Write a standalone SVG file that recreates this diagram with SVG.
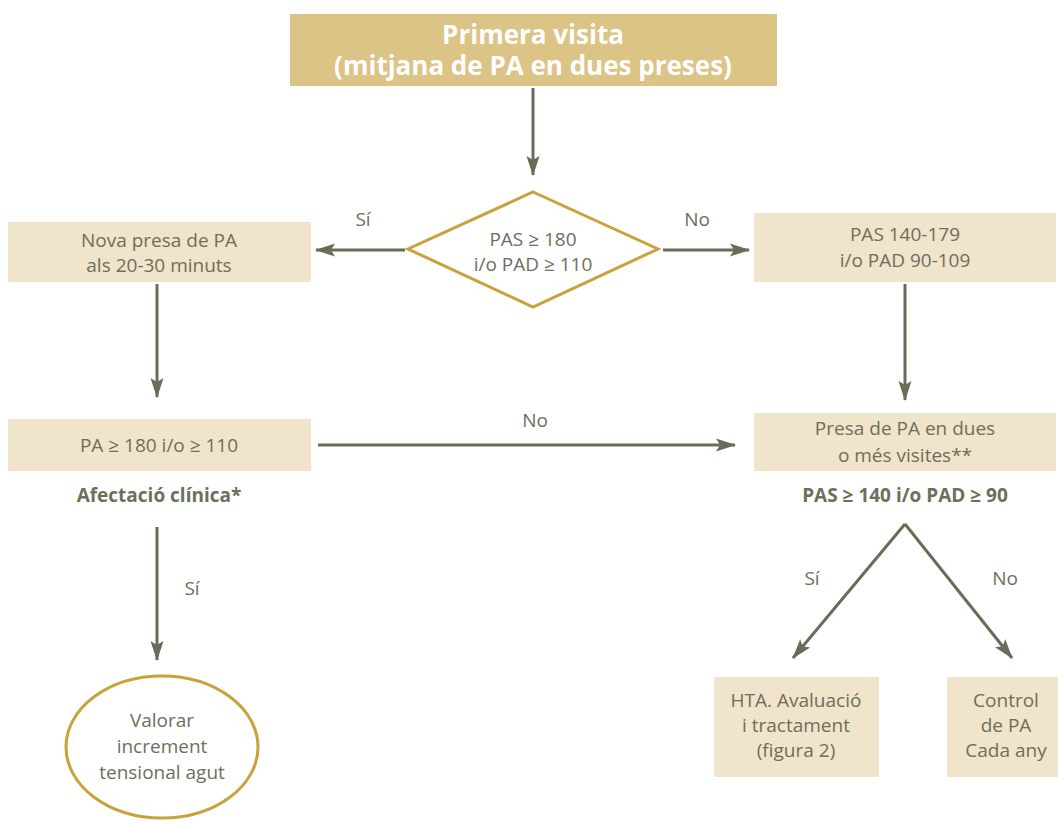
<svg xmlns="http://www.w3.org/2000/svg" width="1058" height="821" viewBox="0 0 1058 821">
<style>
.box{fill:#f0e4cb}
.t{font-family:"Open Sans","Noto Sans",sans-serif;font-size:19px;fill:#6e6e5c;text-anchor:middle}
.b{font-weight:bold}
.title{font-family:"Open Sans","Noto Sans",sans-serif;font-size:26px;font-weight:bold;fill:#ffffff;text-anchor:middle}
.c{stroke:#6b6b58;stroke-width:3;fill:none;marker-end:url(#ah)}
</style>
<defs>
<marker id="ah" viewBox="-20 -7 22 14" refX="0" refY="0" markerWidth="22" markerHeight="14" markerUnits="userSpaceOnUse" orient="auto">
<path d="M-19,-6.5 L1,0 L-19,6.5 L-15,0 Z" fill="#6b6b58"/>
</marker>
</defs>
<rect width="1058" height="821" fill="#ffffff"/>
<g id="connectors">
<line class="c" x1="533" y1="88" x2="533" y2="175"/>
<line class="c" x1="405" y1="250" x2="316" y2="250"/>
<line class="c" x1="663" y1="250" x2="749" y2="250"/>
<line class="c" x1="157" y1="284" x2="157" y2="397"/>
<line class="c" x1="905" y1="284" x2="905" y2="400"/>
<line class="c" x1="318" y1="445" x2="735" y2="445"/>
<line class="c" x1="157" y1="527" x2="157" y2="660"/>
<line class="c" x1="905" y1="524" x2="793" y2="658"/>
<line class="c" x1="905" y1="524" x2="1012" y2="658"/>
<text class="t" x="363" y="226">Sí</text>
<text class="t" x="697" y="226">No</text>
<text class="t" x="535" y="427">No</text>
<text class="t" x="192" y="595">Sí</text>
<text class="t" x="812" y="585">Sí</text>
<text class="t" x="1005" y="585">No</text>
</g>
<g id="start">
<rect x="290" y="14" width="487" height="72" fill="#dcc386"/>
<text class="title" x="533" y="44">Primera visita<tspan x="533" dy="31">(mitjana de PA en dues preses)</tspan></text>
</g>
<g id="decision1">
<polygon points="533,192 658,249 533,307 408,249" fill="#ffffff" stroke="#c9a23c" stroke-width="3"/>
<text class="t" x="533" y="246">PAS ≥ 180</text>
<text class="t" x="533" y="271">i/o PAD ≥ 110</text>
</g>
<g id="nova-presa">
<rect class="box" x="8" y="222" width="303" height="60"/>
<text class="t" x="159" y="247">Nova presa de PA</text>
<text class="t" x="159" y="272">als 20-30 minuts</text>
</g>
<g id="pas140">
<rect class="box" x="754" y="213" width="302" height="69"/>
<text class="t" x="905" y="241">PAS 140-179</text>
<text class="t" x="905" y="267">i/o PAD 90-109</text>
</g>
<g id="pa180">
<rect class="box" x="8" y="419" width="303" height="52"/>
<text class="t" x="159" y="452">PA ≥ 180 i/o ≥ 110</text>
<text class="t b" x="159" y="502">Afectació clínica*</text>
</g>
<g id="presa-dues">
<rect class="box" x="754" y="413" width="302" height="58"/>
<text class="t" x="905" y="435">Presa de PA en dues</text>
<text class="t" x="905" y="462">o més visites**</text>
<text class="t b" x="905" y="502">PAS ≥ 140 i/o PAD ≥ 90</text>
</g>
<g id="valorar">
<ellipse cx="162" cy="747" rx="96" ry="71" fill="#ffffff" stroke="#c9a23c" stroke-width="3"/>
<text class="t" x="162" y="727">Valorar</text>
<text class="t" x="162" y="753">increment</text>
<text class="t" x="162" y="779">tensional agut</text>
</g>
<g id="hta">
<rect class="box" x="714" y="677" width="165" height="100"/>
<text class="t" x="796" y="707">HTA. Avaluació</text>
<text class="t" x="796" y="732">i tractament</text>
<text class="t" x="796" y="757">(figura 2)</text>
</g>
<g id="control">
<rect class="box" x="947" y="677" width="111" height="100"/>
<text class="t" x="1006" y="707">Control</text>
<text class="t" x="1006" y="732">de PA</text>
<text class="t" x="1006" y="757">Cada any</text>
</g>
</svg>
